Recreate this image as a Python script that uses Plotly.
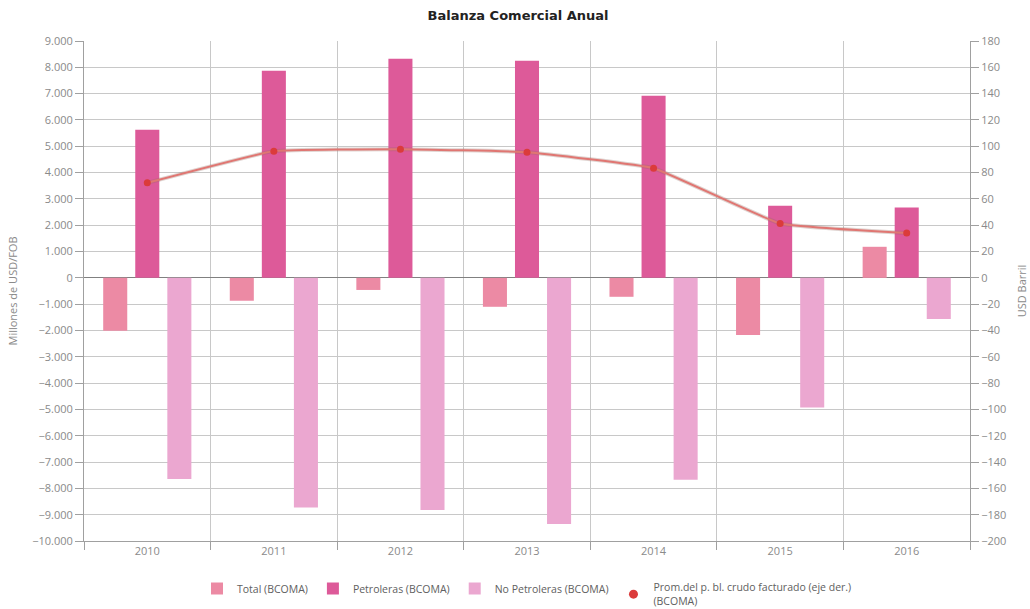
import plotly.graph_objects as go

years = ["2010", "2011", "2012", "2013", "2014", "2015", "2016"]
total = [-2010, -870, -460, -1100, -720, -2170, 1180]
petroleras = [5630, 7870, 8330, 8250, 6920, 2740, 2670]
no_petroleras = [-7640, -8730, -8820, -9350, -7670, -4930, -1560]
precio_crudo = [72.2, 96.3, 97.8, 95.5, 83.3, 41.3, 34.0]

left_ticks = list(range(-10000, 9001, 1000))
right_ticks = list(range(-200, 181, 20))

c_total = "#ec8aa4"
c_petr = "#dd5a99"
c_nopetr = "#eba7d0"
c_line = "#e07672"
c_marker = "#db3b3b"

fig = go.Figure()
fig.add_trace(go.Bar(x=years, y=total, name="Total (BCOMA)", marker=dict(color=c_total, line=dict(width=0))))
fig.add_trace(go.Bar(x=years, y=petroleras, name="Petroleras (BCOMA)", marker=dict(color=c_petr, line=dict(width=0))))
fig.add_trace(go.Bar(x=years, y=no_petroleras, name="No Petroleras (BCOMA)", marker=dict(color=c_nopetr, line=dict(width=0))))
# shadow of the line
fig.add_trace(go.Scatter(x=years, y=precio_crudo, yaxis="y2", mode="lines",
                         line=dict(color="rgba(150,110,100,0.3)", width=4, shape="spline", smoothing=0.3),
                         showlegend=False, hoverinfo="skip"))
fig.add_trace(go.Scatter(x=years, y=precio_crudo, yaxis="y2", mode="lines+markers",
                         name="Prom.del p. bl. crudo facturado (eje der.)<br>(BCOMA)",
                         line=dict(color=c_line, width=2, shape="spline", smoothing=0.3),
                         marker=dict(color=c_marker, size=7),
                         legendgroup="crudo", showlegend=False))
fig.add_trace(go.Scatter(x=[None], y=[None], yaxis="y2", mode="markers",
                         name="Prom.del p. bl. crudo facturado (eje der.)<br>(BCOMA)",
                         marker=dict(color=c_marker, size=9), legendgroup="crudo"))

axis_font = dict(family="Open Sans, DejaVu Sans, sans-serif", size=11, color="#8a8a8a")

fig.update_layout(
    width=1030, height=609,
    paper_bgcolor="white", plot_bgcolor="white",
    separators=",.",
    margin=dict(l=84, r=60, t=41, b=68, autoexpand=False),
    title=dict(text="<b>Balanza Comercial Anual</b>", x=0.503, xanchor="center", y=0.975, yanchor="middle",
               font=dict(family="DejaVu Sans, sans-serif", size=13, color="#222222")),
    barmode="group", bargap=0.24, bargroupgap=0.25,
    font=dict(family="Open Sans, DejaVu Sans, sans-serif", size=11, color="#606060"),
    xaxis=dict(type="category", tickson="boundaries", showgrid=True, gridcolor="#c8c8c8", gridwidth=1,
               ticks="outside", ticklen=8, tickcolor="#a0a0a0", showline=True, linecolor="#a0a0a0",
               tickfont=axis_font, mirror=False, automargin=False),
    yaxis=dict(range=[-10000, 9000], tickvals=left_ticks, tickformat=",d", showgrid=True,
               gridcolor="#c8c8c8", gridwidth=1, zeroline=True, zerolinecolor="#808080", zerolinewidth=1,
               ticks="outside", ticklen=8, tickcolor="#a0a0a0", showline=True, linecolor="#a0a0a0",
               tickfont=axis_font, automargin=False,
               title=dict(text="Millones de USD/FOB", font=dict(size=11, color="#8a8a8a"), standoff=12)),
    yaxis2=dict(range=[-200, 180], tickvals=right_ticks, overlaying="y", side="right", showgrid=False,
                zeroline=False, ticks="outside", ticklen=8, tickcolor="#a0a0a0", showline=True,
                linecolor="#a0a0a0", tickfont=axis_font, automargin=False,
                title=dict(text="USD Barril", font=dict(size=11, color="#8a8a8a"), standoff=12)),
    legend=dict(orientation="h", x=0.5, xanchor="center", y=-0.066, yanchor="top",
                font=dict(family="Open Sans, DejaVu Sans, sans-serif", size=10.5, color="#606060"),
                itemwidth=30, traceorder="normal", tracegroupgap=0),
    showlegend=True,
)

fig.write_html("out.html")
